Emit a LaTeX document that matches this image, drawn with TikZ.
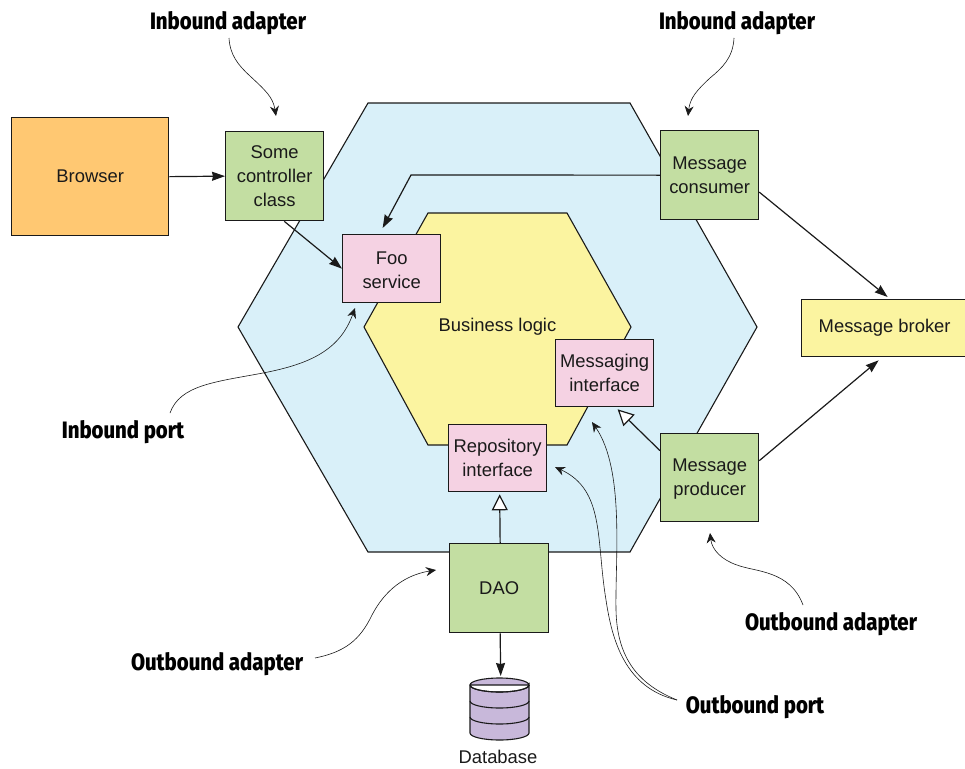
\documentclass[tikz,border=0pt]{standalone}
\usepackage{fontspec}
\setmainfont{Liberation Sans}
\newfontfamily\callfont{Fira Sans}[UprightFont=* ExtraBold,BoldFont=* ExtraBold,FakeStretch=0.86]
\usetikzlibrary{arrows.meta,shapes.geometric,calc}
\definecolor{hexblue}{HTML}{D9F0F9}
\definecolor{hexyellow}{HTML}{FBF4A0}
\definecolor{boxgreen}{HTML}{C3DEA2}
\definecolor{boxpink}{HTML}{F5D2E3}
\definecolor{boxorange}{HTML}{FFC872}
\definecolor{boxyellow}{HTML}{FBF4A0}
\definecolor{dbpurple}{HTML}{C8B8DA}
\definecolor{ink}{HTML}{1A1A1A}
\tikzset{
  x=1pt,y=-1pt,
  every node/.style={font=\fontsize{18.4}{24}\selectfont,text=ink},
  boxbase/.style={draw=ink,line width=1.3pt,align=center,inner sep=0pt,anchor=north west},
  greenbox/.style={boxbase,fill=boxgreen,minimum width=98pt,minimum height=89pt},
  pinkbox/.style={boxbase,fill=boxpink,minimum width=98pt,minimum height=67pt},
  hexline/.style={draw=ink,line width=1.1pt},
  flow/.style={draw=ink,line width=1.2pt,-{Stealth[inset=1pt,length=13pt,width=9pt]}},
  impl/.style={draw=ink,line width=1.2pt,-{Triangle[open,fill=white,length=16pt,width=16pt]}},
  note/.style={draw=ink,line width=0.6pt,-{Stealth[length=10pt,width=9pt]}},
  call/.style={font=\callfont\fontsize{23.7}{24}\selectfont,text=black,inner sep=0pt},
}
\begin{document}
\begin{tikzpicture}
\useasboundingbox (0,0) rectangle (965,768);
\path[hexline,fill=hexblue] (368,103) -- (630,103) -- (757,327) -- (630,552) -- (368,552) -- (238,327) -- cycle;
\path[hexline,fill=hexyellow] (428,213) -- (567,213) -- (631,327) -- (567,445) -- (428,445) -- (364,327) -- cycle;

\node[boxbase,fill=boxorange,minimum width=157pt,minimum height=118pt] (browser) at (11,117) {Browser};
\node[greenbox] (ctrl) at (225,131) {Some\\controller\\class};
\node[pinkbox,minimum height=68pt] (foo) at (342,234) {\rule{0pt}{16pt}Foo\\service};
\node[greenbox] (consumer) at (660,130) {Message\\consumer};
\node[boxbase,fill=boxyellow,minimum width=170pt,minimum height=57pt] (broker) at (801,299) {\hspace*{-4pt}Message broker};
\node[pinkbox] (msgif) at (555,339) {Messaging\\interface};
\node[pinkbox] (repo) at (448,424) {Repository\\interface};
\node[greenbox,minimum height=88pt] (producer) at (660,433) {\rule{0pt}{16pt}Message\\producer};
\node[greenbox,minimum width=99pt] (dao) at (449,543) {DAO};

% database
\node[inner sep=0pt,minimum width=59pt,minimum height=62pt,anchor=north west] (db) at (470,678) {};
\begin{scope}[draw=ink,line width=1.1pt]
\path[draw=ink,fill=dbpurple] (470,685) -- (470,733) arc[x radius=29.5,y radius=-7,start angle=180,end angle=360] -- (529,685) arc[x radius=29.5,y radius=7,start angle=0,end angle=360] -- cycle;
\draw (470,701) arc[x radius=29.5,y radius=-7,start angle=180,end angle=360];
\draw (470,717) arc[x radius=29.5,y radius=-7,start angle=180,end angle=360];
\draw (470,685) arc[x radius=29.5,y radius=-7,start angle=180,end angle=360];
\end{scope}
\node[inner sep=0pt,font=\fontsize{18.4}{20}\selectfont] (dblabel) at (498,757) {Database};

\node[inner sep=0pt] (bizlabel) at (497.5,327) {Business logic};

% callouts
\node[call] (ia1) at (228,23) {Inbound adapter};
\node[call] (ia2) at (737,23) {Inbound adapter};
\node[call] (ip) at (123,432) {Inbound port};
\node[call] (oa1) at (217,664) {Outbound adapter};
\node[call] (oa2) at (831,624) {Outbound adapter};
\node[call] (op) at (755,707) {Outbound port};

\coordinate (t1) at (276,116);
\coordinate (t2) at (688,116);
\coordinate (t3) at (355,308);
\coordinate (t4) at (436,570);
\coordinate (t5) at (710,533);
\coordinate (t6) at (555,467);
\coordinate (t7) at (592,422);

% connectors
\draw[flow] (browser.east) -- (ctrl.west);
\draw[flow] (ctrl.-78.6) -- (foo.west);
\draw[flow] (consumer.west) -- (411,175) -- ([xshift=-9pt,yshift=6pt]foo.north);
\draw[flow] ([yshift=-17pt]consumer.east) -- ([xshift=1pt,yshift=2pt]broker.north);
\draw[flow] ([yshift=17pt]producer.east) -- ([xshift=-8pt,yshift=-3pt]broker.south);
\draw[impl] ([yshift=27pt]producer.west) -- ([xshift=13pt,yshift=-2pt]msgif.south);
\draw[impl] ([xshift=1pt]dao.north) -- ([xshift=2pt,yshift=-2pt]repo.south);
\draw[flow] ([xshift=1pt]dao.south) -- ([xshift=1pt,yshift=2pt]db.north);

% callout curves
\draw[note] (229,38) .. controls (230,55) and (238,65) .. (250,76) .. controls (265,90) and (273,97) .. (t1);
\draw[note] (734,38) .. controls (733,58) and (722,68) .. (710,78) .. controls (697,90) and (690,98) .. (t2);
\draw[note] (170,413) .. controls (180,385) and (215,382) .. (263,373) .. controls (310,364) and (340,350) .. (t3);
\draw[note] (315,658) .. controls (345,652) and (360,640) .. (372,615) .. controls (385,590) and (405,575) .. (t4);
\draw[note] (803,605) .. controls (790,570) and (755,572) .. (737,565) .. controls (722,560) and (712,550) .. (t5);
\draw[note] (677,700) .. controls (625,688) and (612,640) .. (606,600) .. controls (596,540) and (605,490) .. (t6);
\draw[note] (677,700) .. controls (640,685) and (617,660) .. (616,610) .. controls (615,560) and (625,470) .. (t7);
\end{tikzpicture}
\end{document}
